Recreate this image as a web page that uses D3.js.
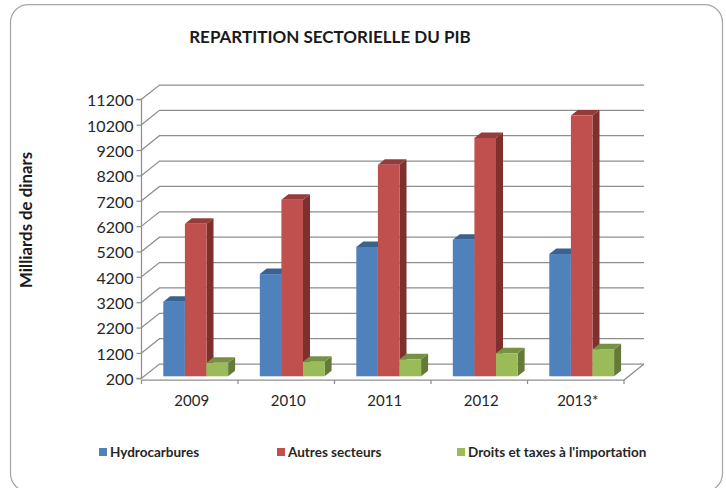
<!DOCTYPE html>
<html>
<head>
<meta charset="utf-8">
<script src="https://cdn.jsdelivr.net/npm/d3@7"></script>
<style>
  html, body { margin: 0; padding: 0; background: #fff; overflow: hidden; }
  svg { display: block; font-family: Lato, "Open Sans", sans-serif; }
</style>
</head>
<body>
<svg id="chart" width="726" height="488"></svg>
<script>
// Values, in milliards de dinars
var categories = ['2009', '2010', '2011', '2012', '2013*'];
var seriesNames = ['Hydrocarbures', 'Autres secteurs', "Droits et taxes à l'importation"];
var hydrocarbures = [3140, 4230, 5300, 5580, 5020];
var autresSecteurs = [6210, 7160, 8540, 9600, 10480];
var droitsTaxes = [730, 770, 870, 1110, 1270];
var tickValues = [200, 1200, 2200, 3200, 4200, 5200, 6200, 7200, 8200, 9200, 10200, 11200];

var seriesValues = [hydrocarbures, autresSecteurs, droitsTaxes];
var frontColors = ['#4f81bd', '#c0504d', '#9bbb59'];
var topColors = ['#39628f', '#943c3a', '#769044'];
var sideColors = ['#2f5279', '#7d302e', '#637a38'];

// Set configuration for the fake 3d box
var config = {
  left: 141.5,
  right: 624,
  top: 99.3,
  bottom: 378.3,
  wallDx: 18,
  wallDy: -14.3,
  barDx: 7,
  barDy: -5.5,
  barWidth: 21.6,
  barShiftY: -2,
  gridColor: '#8e8e8e',
};

var svg = d3.select('#chart');

svg.append('rect')
  .attr('x', 10.5).attr('y', 4.5)
  .attr('width', 712).attr('height', 487)
  .attr('rx', 18).attr('ry', 18)
  .attr('fill', '#fff')
  .attr('stroke', '#a6a6a6')
  .attr('stroke-width', 1.25);

var x = d3.scaleBand()
  .domain(categories)
  .range([config.left, config.right]);

var y = d3.scaleLinear()
  .domain([200, 11200])
  .range([config.bottom, config.top]);

// Back wall gridlines and side wall diagonals
var grid = svg.append('g')
  .attr('fill', 'none')
  .attr('stroke', config.gridColor)
  .attr('stroke-width', 1.25);

tickValues.forEach(function(t) {
  grid.append('path')
    .attr('d', 'M' + config.left + ',' + y(t) +
      'L' + (config.left + config.wallDx) + ',' + (y(t) + config.wallDy) +
      'H' + (config.right + config.wallDx + 2));
});

// Floor: right edge and front edge
var floorY = y(200) + 1.7;
grid.append('path')
  .attr('d', 'M' + config.left + ',' + floorY + 'H' + config.right +
    'L' + (config.right + config.wallDx + 2) + ',' + (y(200) + config.wallDy));

// Category ticks on the floor edge
x.domain().concat(['end']).forEach(function(c, i) {
  var tx = config.left + i * x.bandwidth();
  grid.append('line')
    .attr('x1', tx).attr('x2', tx)
    .attr('y1', floorY).attr('y2', floorY + 4);
});

// Bars, drawn category by category from left to right
var barLeft = function(c, s) {
  return x(c) + 21.8 + s * config.barWidth;
};

seriesValues.forEach(function(values, s) {
  var g = svg.append('g').attr('class', 'series' + s);
  categories.forEach(function(c, i) {
    var x0 = barLeft(c, s);
    var x1 = x0 + config.barWidth;
    var y0 = y(200) + config.barShiftY;
    var y1 = y(values[i]) + config.barShiftY;
    var dx = config.barDx;
    var dy = config.barDy;
    g.append('path')
      .attr('fill', sideColors[s])
      .attr('d', 'M' + x1 + ',' + y0 + 'L' + x1 + ',' + y1 + 'L' + (x1 + dx) + ',' + (y1 + dy) + 'L' + (x1 + dx) + ',' + (y0 + dy) + 'Z');
    g.append('path')
      .attr('fill', topColors[s])
      .attr('d', 'M' + x0 + ',' + y1 + 'L' + (x0 + dx) + ',' + (y1 + dy) + 'L' + (x1 + dx) + ',' + (y1 + dy) + 'L' + x1 + ',' + y1 + 'Z');
    g.append('rect')
      .attr('fill', frontColors[s])
      .attr('x', x0).attr('y', y1)
      .attr('width', config.barWidth)
      .attr('height', y0 - y1);
  });
});

// Y axis
var yAxis = svg.append('g')
  .attr('transform', 'translate(' + config.left + ',0)')
  .call(d3.axisLeft(y).tickValues(tickValues).tickFormat(d3.format('d')).tickSize(5).tickPadding(3));
yAxis.selectAll('path, line').attr('stroke', config.gridColor).attr('stroke-width', 1.25);
yAxis.select('.domain').attr('d', 'M-5,' + config.top + 'H0V' + config.bottom + 'H-5');
yAxis.selectAll('text').attr('font-size', 16).attr('fill', '#262626').attr('font-family', 'Lato').attr('dy', '0.4em');

// Category labels
svg.append('g').selectAll('text')
  .data(categories)
  .join('text')
  .attr('x', function(c) { return x(c) + x.bandwidth() / 2 + 2; })
  .attr('y', 405.5)
  .attr('text-anchor', 'middle')
  .attr('font-size', 15)
  .attr('fill', '#262626')
  .text(function(c) { return c; });

// Title and axis title
svg.append('text')
  .attr('x', 330).attr('y', 43)
  .attr('text-anchor', 'middle')
  .attr('font-size', 17)
  .attr('font-weight', 700)
  .attr('fill', '#1a1a1a')
  .text('REPARTITION SECTORIELLE DU PIB');

svg.append('text')
  .attr('transform', 'translate(32,220) rotate(-90)')
  .attr('text-anchor', 'middle')
  .attr('font-size', 16.8)
  .attr('font-weight', 700)
  .attr('fill', '#1a1a1a')
  .text('Milliards de dinars');

// Legend
var legendX = [99, 277, 457];
var legend = svg.append('g').selectAll('g')
  .data(seriesNames)
  .join('g')
  .attr('transform', function(d, i) { return 'translate(' + legendX[i] + ',448)'; });
legend.append('rect')
  .attr('width', 8).attr('height', 8)
  .attr('fill', function(d, i) { return frontColors[i]; });
legend.append('text')
  .attr('x', 11).attr('y', 9)
  .attr('font-size', 13.5)
  .attr('font-weight', 700)
  .attr('fill', '#262626')
  .text(function(d) { return d; });
</script>
</body>
</html>
